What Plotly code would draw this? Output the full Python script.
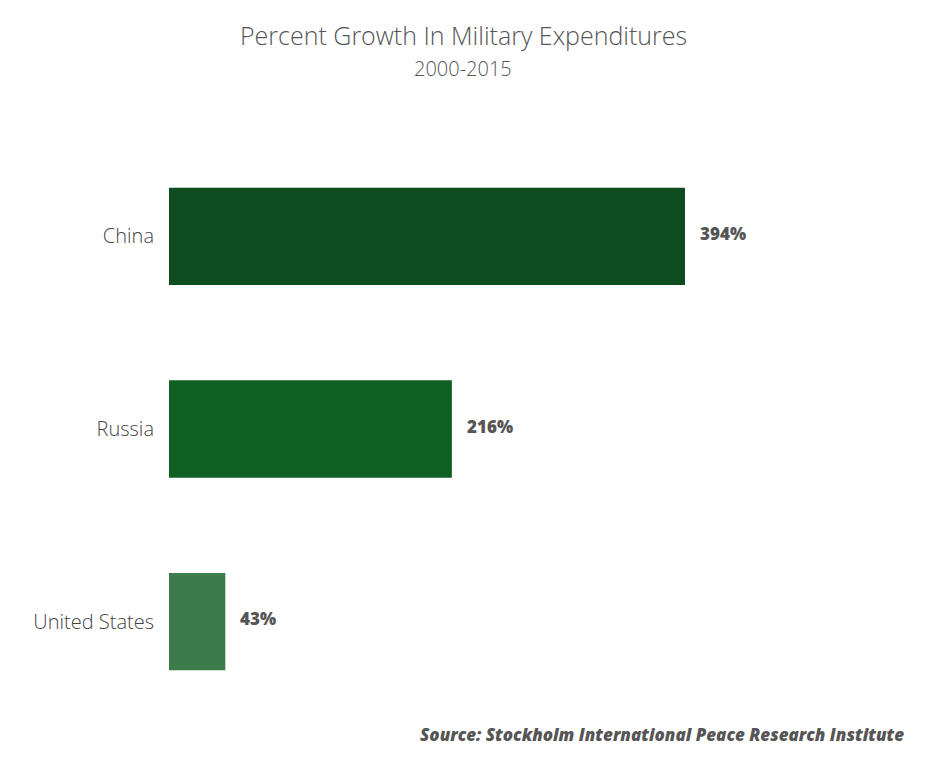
import plotly.graph_objects as go

countries = ["China", "Russia", "United States"]
growth = [394, 216, 43]
bar_colors = ["#0d4c1e", "#0f6123", "#3b7c4a"]
value_labels = ["394%", "216%", "43%"]

title_text = "Percent Growth In Military Expenditures"
subtitle_text = "2000-2015"
source_text = "Source: Stockholm International Peace Research Institute"

FONT = "Open Sans"

fig = go.Figure()
fig.add_trace(go.Bar(
    x=growth,
    y=countries,
    orientation="h",
    marker=dict(color=bar_colors, line=dict(width=0)),
    hoverinfo="skip",
))

for c, v, lab in zip(countries, growth, value_labels):
    fig.add_annotation(
        x=v, y=c, xref="x", yref="y", text=lab, showarrow=False,
        xanchor="left", yanchor="middle", xshift=13, yshift=3,
        font=dict(family=FONT, size=17, color="#555555", weight=800),
    )

W, H = 928, 759
OFF = 8  # page body margin
ml, mr, mt, mb = 169 - OFF, 23 + OFF, 140 - OFF, 41 + OFF
pw, ph = W - ml - mr, H - mt - mb
def px(xp): return (xp - OFF - ml) / pw
def py(yp): return (H - mb - (yp - OFF)) / ph

fig.add_annotation(
    x=px(463), y=py(35), xref="paper", yref="paper", text=title_text, showarrow=False,
    xanchor="center", yanchor="middle",
    font=dict(family=FONT, size=25, color="#555555", weight=300),
)
fig.add_annotation(
    x=px(463), y=py(68), xref="paper", yref="paper", text=subtitle_text, showarrow=False,
    xanchor="center", yanchor="middle",
    font=dict(family=FONT, size=20, color="#555555", weight=300),
)
fig.add_annotation(
    x=px(906), y=py(734), xref="paper", yref="paper", text="<i>" + source_text + "</i>",
    showarrow=False, xanchor="right", yanchor="middle",
    font=dict(family=FONT, size=17, color="#555555", weight=800),
)

fig.update_layout(
    width=W, height=H,
    margin=dict(l=ml, r=mr, t=mt, b=mb, pad=0),
    paper_bgcolor="white", plot_bgcolor="white",
    showlegend=False,
    bargap=0.495,
    xaxis=dict(range=[0, pw / 1.3096], visible=False, fixedrange=True),
    yaxis=dict(
        autorange="reversed", showgrid=False, zeroline=False, showline=False,
        ticks="", ticklabelstandoff=14,
        tickfont=dict(family=FONT, size=20, color="#444444", weight=300),
    ),
)

fig.write_html("out.html")
